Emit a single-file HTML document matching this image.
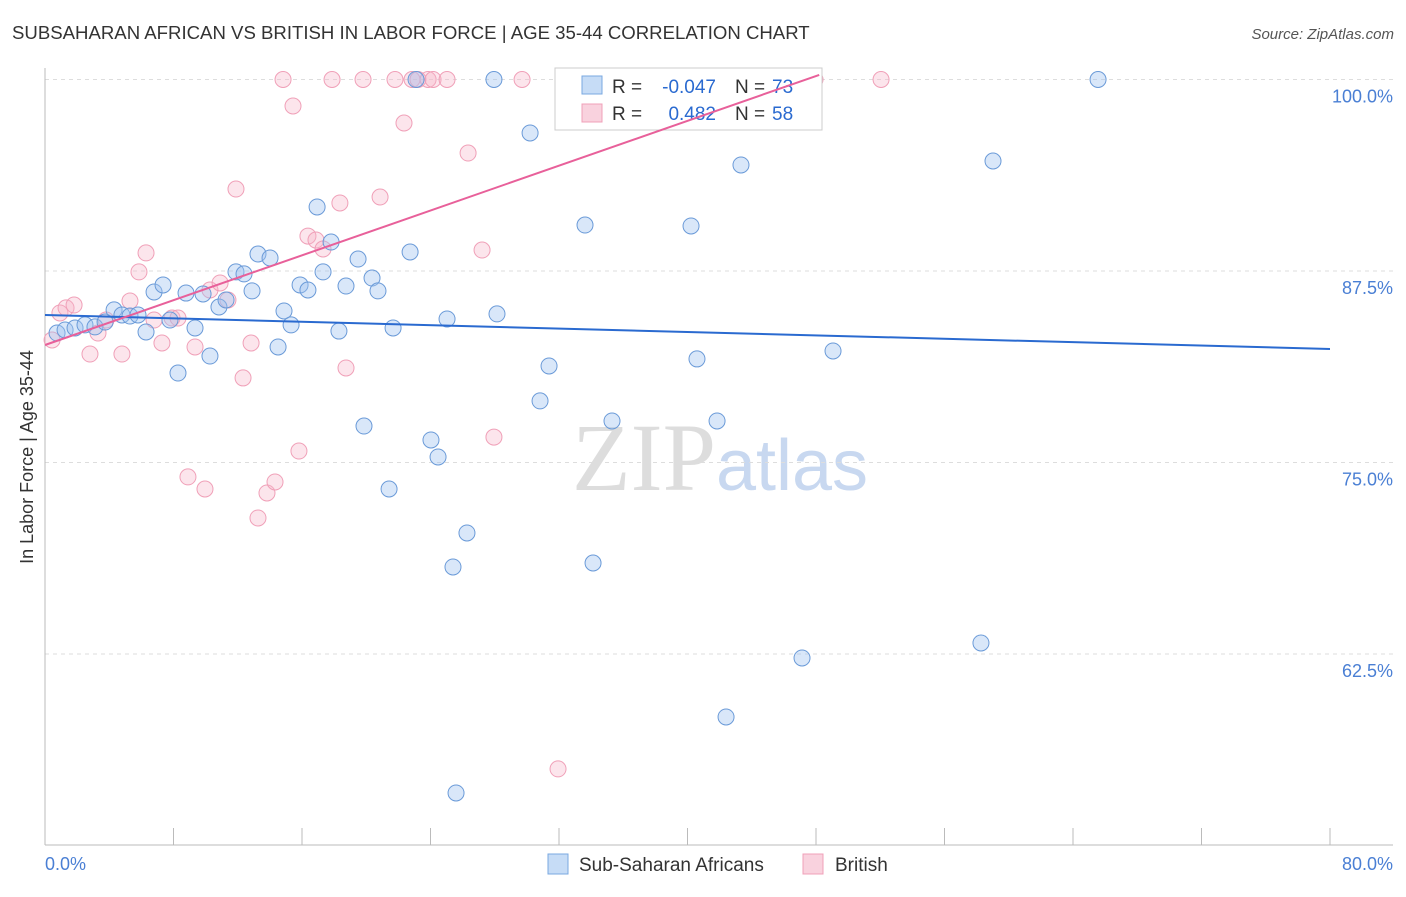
<!DOCTYPE html>
<html><head><meta charset="utf-8"><style>
body{margin:0;background:#fff;font-family:"Liberation Sans",sans-serif;}
</style></head><body>
<svg id="chart" width="1406" height="892" xmlns="http://www.w3.org/2000/svg" style="font-family:'Liberation Sans',sans-serif">
<text x="12" y="39" font-size="18.6" fill="#333">SUBSAHARAN AFRICAN VS BRITISH IN LABOR FORCE | AGE 35-44 CORRELATION CHART</text>
<text x="1394" y="39" font-size="15" fill="#555" text-anchor="end" font-style="italic">Source: ZipAtlas.com</text>
<text x="720" y="490" font-size="96" text-anchor="middle" fill="#ddd" font-family="Liberation Serif">ZIP<tspan fill="#c8d8f0" font-family="Liberation Sans" font-size="72">atlas</tspan></text>
<g id="grid"></g>
<g id="axes"></g>
<g id="pts"></g>
<g>
<rect x="555" y="68" width="267" height="62" fill="#fff" stroke="#ccc"/>
<rect x="582" y="76" width="20" height="18" fill="rgba(160,196,240,0.6)" stroke="#7aa8e0"/>
<rect x="582" y="104" width="20" height="18" fill="rgba(245,180,200,0.6)" stroke="#f0a0b8"/>
<text x="612" y="93" font-size="19" fill="#333">R =</text>
<text x="716" y="93" font-size="19" fill="#2a6ad0" text-anchor="end">-0.047</text>
<text x="735" y="93" font-size="19" fill="#333">N =</text>
<text x="772" y="93" font-size="19" fill="#2a6ad0">73</text>
<text x="612" y="120" font-size="19" fill="#333">R =</text>
<text x="716" y="120" font-size="19" fill="#2a6ad0" text-anchor="end">0.482</text>
<text x="735" y="120" font-size="19" fill="#333">N =</text>
<text x="772" y="120" font-size="19" fill="#2a6ad0">58</text>
</g>
<g id="lines"></g>
<text transform="translate(33,457) rotate(-90)" font-size="18" fill="#333" text-anchor="middle">In Labor Force | Age 35-44</text>
<text x="45" y="870" font-size="18" fill="#4a7fd4">0.0%</text>
<text x="1393" y="870" font-size="18" fill="#4a7fd4" text-anchor="end">80.0%</text>
<g>
<rect x="548" y="854" width="20" height="20" fill="rgba(160,196,240,0.6)" stroke="#7aa8e0"/>
<text x="579" y="871" font-size="19" fill="#333">Sub-Saharan Africans</text></g>
<g>
<rect x="803" y="854" width="20" height="20" fill="rgba(245,180,200,0.6)" stroke="#f0a0b8"/>
<text x="835" y="871" font-size="19" fill="#333">British</text></g>
</svg>
<script>
const yTicks=[100,87.5,75,62.5];
const yTickLabels=["100.0%","87.5%","75.0%","62.5%"];
const blueX=[0.75,1.25,1.87,2.49,3.11,3.74,4.30,4.79,5.29,5.79,6.29,6.79,7.35,7.78,8.28,8.78,9.34,9.84,10.27,10.83,11.27,11.89,12.39,12.89,13.26,14.01,14.51,14.88,15.32,15.88,16.37,16.94,17.31,17.81,18.30,18.74,19.49,19.86,20.36,20.73,21.42,21.67,22.73,23.10,24.03,24.47,25.03,25.40,25.59,26.27,27.95,28.14,30.20,30.82,31.38,33.00,33.62,34.12,35.30,40.22,40.59,41.84,42.40,43.33,47.13,49.06,58.27,59.02,65.56];
const blueY=[83.45,83.65,83.78,83.98,83.85,84.17,84.96,84.63,84.56,84.63,83.52,86.13,86.59,84.30,80.84,86.06,83.78,86.00,81.95,85.15,85.61,87.44,87.31,86.20,88.61,88.35,82.54,84.89,83.98,86.59,86.26,91.68,87.44,89.39,83.58,86.52,88.28,77.38,87.04,86.20,73.27,83.78,88.74,100,76.47,75.36,84.37,68.18,53.43,70.40,100,84.70,96.51,79.02,81.30,100,90.50,68.44,77.71,90.44,81.76,77.71,58.39,94.42,62.24,82.28,63.22,94.68,100];
const pinkX=[0.44,0.93,1.31,1.81,2.80,3.30,3.80,4.79,5.29,5.85,6.29,6.79,7.28,7.91,8.28,8.90,9.34,9.96,10.27,10.90,11.39,11.89,12.33,12.83,13.26,13.82,14.32,14.82,15.44,15.81,16.37,16.87,17.31,17.87,18.36,18.74,19.80,20.86,21.79,22.35,22.85,23.22,23.85,24.16,25.03,26.34,27.21,27.95,29.70,31.94,43.27,47.94,52.05];
const pinkY=[83.0,84.76,85.09,85.28,82.08,83.45,84.30,82.08,85.54,87.44,88.68,84.30,82.80,84.43,84.43,74.06,82.54,73.27,86.26,86.72,85.61,92.85,80.52,82.80,71.38,73.01,73.73,100,98.27,75.75,89.78,89.52,88.94,100,91.94,81.17,100,92.33,100,97.16,100,100,100,100,100,95.20,88.87,76.66,100,55.00,100,100,100];
const blueLine=[[0,84.63],[80,82.41]];
const pinkLine=[[0,82.67],[48.2,100.3]];
const NS="http://www.w3.org/2000/svg";
const X=v=>45+v/80*1285, Y=v=>79.5+(100-v)/12.5*191.5;
function mk(t,a,p){const e=document.createElementNS(NS,t);for(const k in a)e.setAttribute(k,a[k]);p.appendChild(e);return e;}
const grid=document.getElementById('grid'),axes=document.getElementById('axes'),pts=document.getElementById('pts'),lines=document.getElementById('lines');
yTicks.forEach((t,i)=>{
 const l=mk('line',{x1:45,x2:1393,y1:Y(t),y2:Y(t),stroke:'#ddd','stroke-dasharray':'4,4'},grid);
 
 
 const tx=mk('text',{x:1393,y:Y(t)+23,'font-size':18,fill:'#4a7fd4','text-anchor':'end'},grid);
 tx.textContent=yTickLabels[i];
 
 
});
let a=mk('line',{x1:45,x2:45,y1:68,y2:845,stroke:'#bbb'},axes);


a=mk('line',{x1:45,x2:1393,y1:845,y2:845,stroke:'#bbb'},axes);


for(let i=1;i<=10;i++){const t=mk('line',{x1:X(i*8),x2:X(i*8),y1:828,y2:845,stroke:'#bbb'},axes);
 
 }
function dots(xs,ys,fill,stroke,name){xs.forEach((x,i)=>{
 const c=mk('circle',{cx:X(x),cy:Y(ys[i]),r:8,fill:fill,stroke:stroke,'stroke-width':1},pts);
 
 });}
dots(pinkX,pinkY,'rgba(245,180,200,0.35)','#f0a0b8','british-point');
dots(blueX,blueY,'rgba(160,196,240,0.4)','#6a9ad8','sub-saharan-point');
let ln=mk('line',{x1:X(blueLine[0][0]),y1:Y(blueLine[0][1]),x2:X(blueLine[1][0]),y2:Y(blueLine[1][1]),stroke:'#2a6ad0','stroke-width':2},lines);


ln=mk('line',{x1:X(pinkLine[0][0]),y1:Y(pinkLine[0][1]),x2:X(pinkLine[1][0]),y2:Y(pinkLine[1][1]),stroke:'#e8609a','stroke-width':2},lines);


</script>
</body></html>
